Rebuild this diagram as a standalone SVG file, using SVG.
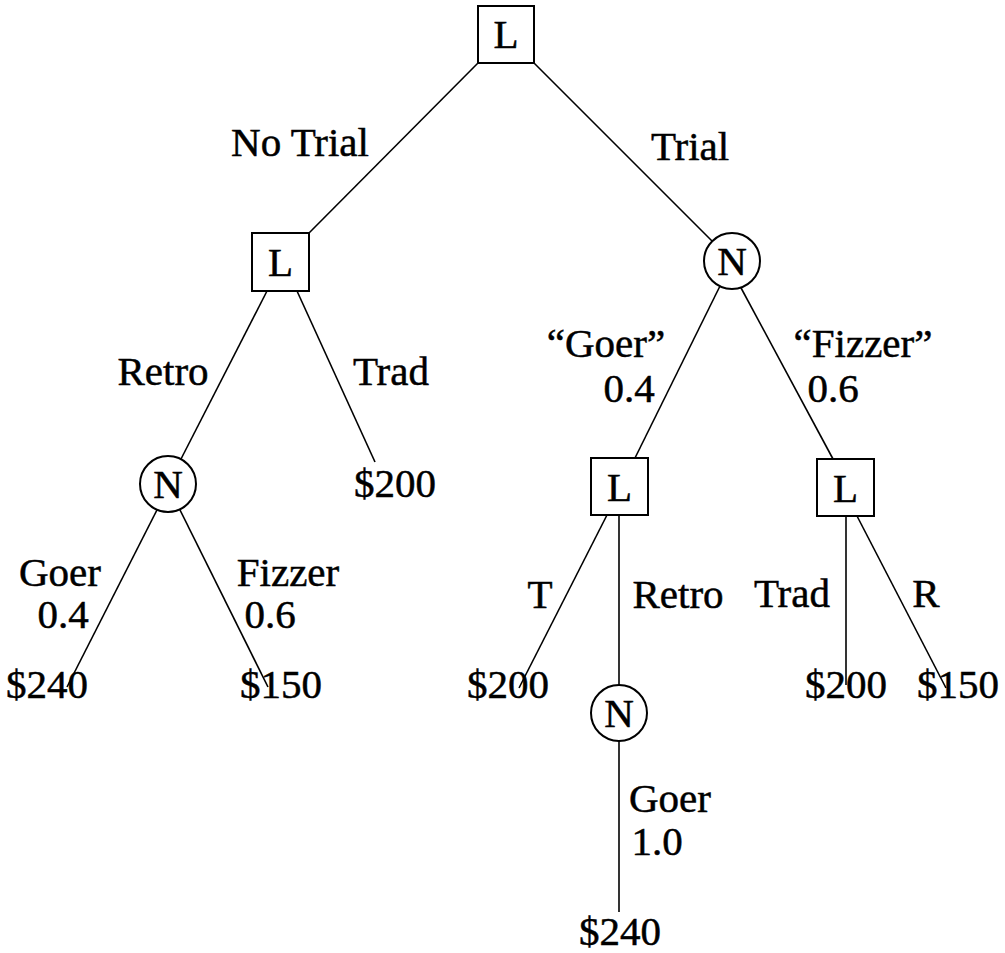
<svg xmlns="http://www.w3.org/2000/svg" width="1005" height="953" viewBox="0 0 1005 953">
<style>
text{font-family:"Liberation Serif","Times New Roman",serif;font-size:41px;fill:#000;stroke:#000;stroke-width:0.5;text-anchor:middle}
.n{fill:#fff;stroke:#000;stroke-width:2}
#edges line{stroke:#000;stroke-width:1.6}
</style>
<rect width="1005" height="953" fill="#fff"/>
<g id="edges">
<line x1="478" y1="63" x2="309" y2="233"/>
<line x1="534" y1="63" x2="712" y2="241"/>
<line x1="267" y1="291" x2="181" y2="459"/>
<line x1="297" y1="291" x2="375" y2="462"/>
<line x1="158" y1="508" x2="67" y2="687"/>
<line x1="179" y1="508" x2="268" y2="687"/>
<line x1="720" y1="286" x2="635" y2="458"/>
<line x1="740" y1="286" x2="833" y2="459"/>
<line x1="607" y1="515" x2="519" y2="688"/>
<line x1="619" y1="515" x2="619" y2="685"/>
<line x1="619" y1="741" x2="619" y2="912"/>
<line x1="846" y1="516" x2="846" y2="685"/>
<line x1="857" y1="516" x2="946" y2="688"/>
</g>
<g id="n1"><rect class="n" x="478" y="6" width="56" height="57"/><text x="506" y="48">L</text></g>
<g id="n2"><rect class="n" x="252" y="233" width="57" height="58"/><text x="280.5" y="276">L</text></g>
<g id="n3"><circle class="n" cx="732" cy="261" r="28"/><text x="732" y="275">N</text></g>
<g id="n4"><circle class="n" cx="168" cy="484" r="28"/><text x="168" y="498">N</text></g>
<g id="n5"><text x="395" y="497">$200</text></g>
<g id="n6"><rect class="n" x="591" y="458" width="57" height="57"/><text x="619.5" y="501">L</text></g>
<g id="n7"><rect class="n" x="817" y="459" width="57" height="57"/><text x="845.5" y="502">L</text></g>
<g id="n8"><text x="47" y="698">$240</text></g>
<g id="n9"><text x="281" y="698">$150</text></g>
<g id="n10"><text x="508" y="698">$200</text></g>
<g id="n11"><circle class="n" cx="619" cy="713" r="28"/><text x="619" y="727">N</text></g>
<g id="n12"><text x="846" y="698">$200</text></g>
<g id="n13"><text x="958" y="698">$150</text></g>
<g id="n14"><text x="620" y="945">$240</text></g>
<g id="labels">
<text x="300" y="156">No Trial</text>
<text x="690" y="160">Trial</text>
<text x="163" y="385">Retro</text>
<text x="391" y="385">Trad</text>
<text x="606" y="357">“Goer”</text>
<text x="629" y="402">0.4</text>
<text x="863" y="357">“Fizzer”</text>
<text x="833" y="402">0.6</text>
<text x="60" y="586">Goer</text>
<text x="63" y="628">0.4</text>
<text x="288" y="586">Fizzer</text>
<text x="270" y="628">0.6</text>
<text x="540" y="608">T</text>
<text x="678" y="608">Retro</text>
<text x="792" y="607">Trad</text>
<text x="926" y="607">R</text>
<text x="670" y="812">Goer</text>
<text x="657" y="855">1.0</text>
</g>
</svg>
